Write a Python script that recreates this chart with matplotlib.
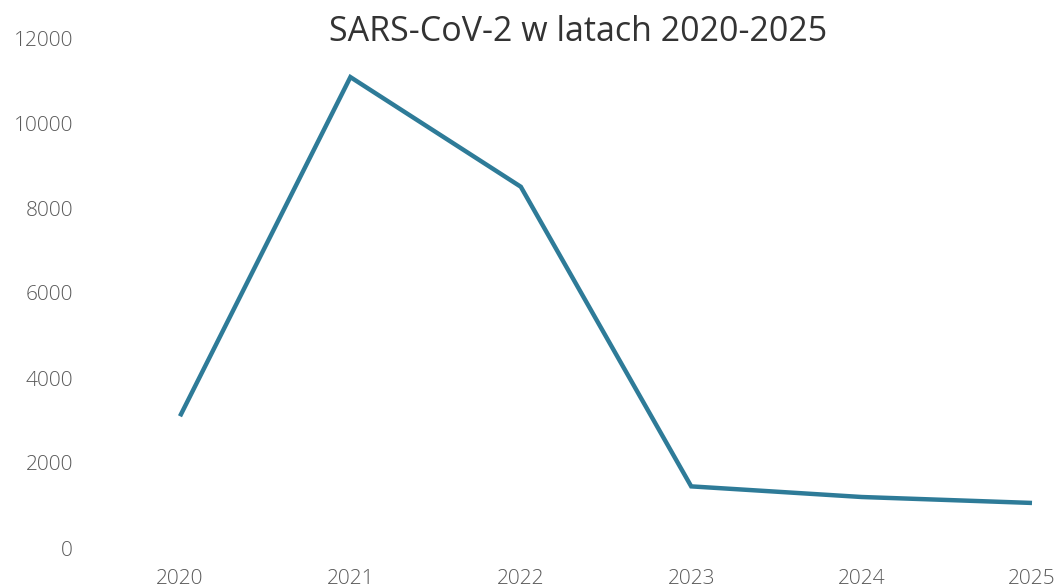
import matplotlib
matplotlib.use("Agg")
import matplotlib.pyplot as plt

years = [2020, 2021, 2022, 2023, 2024, 2025]
cases = [3100, 11080, 8500, 1450, 1200, 1060]
yticks = [0, 2000, 4000, 6000, 8000, 10000, 12000]
title = "SARS-CoV-2 w latach 2020-2025"

W, H = 1058, 587
fig = plt.figure(figsize=(W / 100, H / 100), dpi=100)
ax = fig.add_axes([180 / W, 39 / H, (1032 - 180) / W, 510 / H])
ax.plot(years, cases, color="#2E7B98", linewidth=3.2, clip_on=False,
        solid_joinstyle="miter", solid_capstyle="butt")
ax.set_xlim(2020, 2025)
ax.set_ylim(0, 12000)
ax.set_xticks(years)
ax.set_xticklabels([str(y) for y in years])
ax.set_yticks(yticks)
ax.set_yticklabels([str(v) for v in yticks])
for s in ax.spines.values():
    s.set_visible(False)
ax.tick_params(axis="both", length=0, labelsize=15, labelcolor="#5a5a5a")
ax.tick_params(axis="y", pad=77)
ax.tick_params(axis="x", pad=15)
for lab in ax.get_xticklabels() + ax.get_yticklabels():
    lab.set_fontfamily(["Open Sans", "DejaVu Sans"])
    lab.set_fontweight("light")
fig.text(578 / W, 1 - 32 / H, title, ha="center", va="center",
         fontsize=24.5, color="#333333",
         family=["Open Sans", "DejaVu Sans"])
fig.savefig("out.png", dpi=100, facecolor="white")
